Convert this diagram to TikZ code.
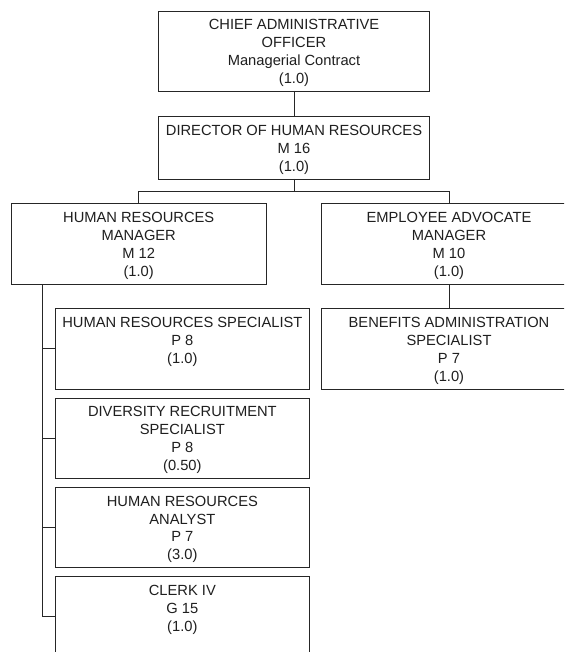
\documentclass[tikz,border=0pt]{standalone}
\usepackage{fontspec}
\setmainfont{Liberation Sans}
\begin{document}
\begin{tikzpicture}[x=1pt,y=-1pt,
  box/.style={draw=black!85, line width=0.9pt, minimum width=254.6pt, minimum height=80.6pt, inner sep=0pt, outer sep=0pt},
  txt/.style={align=center, anchor=north, inner sep=0pt, text=black!88, font={\fontsize{14.7}{17.9}\selectfont}},
  conn/.style={draw=black!85, line width=0.9pt}]
\useasboundingbox (0,0) rectangle (564,652);
\clip (0,0) rectangle (564,652);
\fill[white] (0,0) rectangle (564,652);
% boxes
\node[box, minimum width=271.4pt, minimum height=80pt] (cao) at (294,51) {};
\node[box, minimum width=271.4pt, minimum height=62.7pt] (dir) at (294,147.65) {};
\node[box] (hrm) at (138.7,244) {};
\node[box] (eam) at (449,244) {};
\node[box] (bas) at (449,349) {};
\node[box] (hrs) at (182.35,348.9) {};
\node[box] (drs) at (182.35,438.3) {};
\node[box] (hra) at (182.35,527.5) {};
\node[box] (clk) at (182.35,616.9) {};
% texts
\node[txt] (caot) at ([yshift=-8.5pt]cao.north) {CHIEF ADMINISTRATIVE\\OFFICER\\Managerial Contract\\(1.0)};
\node[txt] (dirt) at ([yshift=-8.5pt]dir.north) {DIRECTOR OF HUMAN RESOURCES\\M 16\\(1.0)};
\node[txt] (hrmt) at ([yshift=-8.5pt]hrm.north) {HUMAN RESOURCES\\MANAGER\\M 12\\(1.0)};
\node[txt] (eamt) at ([yshift=-8.5pt]eam.north) {EMPLOYEE ADVOCATE\\MANAGER\\M 10\\(1.0)};
\node[txt] (bast) at ([yshift=-8.5pt]bas.north) {BENEFITS ADMINISTRATION\\SPECIALIST\\P 7\\(1.0)};
\node[txt] (hrst) at ([yshift=-8.5pt]hrs.north) {HUMAN RESOURCES SPECIALIST\\P 8\\(1.0)};
\node[txt] (drst) at ([yshift=-8.5pt]drs.north) {DIVERSITY RECRUITMENT\\SPECIALIST\\P 8\\(0.50)};
\node[txt] (hrat) at ([yshift=-8.5pt]hra.north) {HUMAN RESOURCES\\ANALYST\\P 7\\(3.0)};
\node[txt] (clkt) at ([yshift=-8.5pt]clk.north) {CLERK IV\\G 15\\(1.0)};
% connectors
\coordinate (bus) at (294,191.7);
\draw[conn] (cao.south) -- (dir.north);
\draw[conn] (dir.south) -- (bus);
\draw[conn] (hrm.north) |- (bus) -| (eam.north);
\draw[conn] (eam.south) -- (bas.north);
\coordinate (tr) at ([xshift=31.3pt]hrm.south west);
\draw[conn] (tr) |- (clk.west);
\foreach \n in {hrs,drs,hra} \draw[conn] (\n.west) -- (\n.west -| tr);
\end{tikzpicture}
\end{document}
